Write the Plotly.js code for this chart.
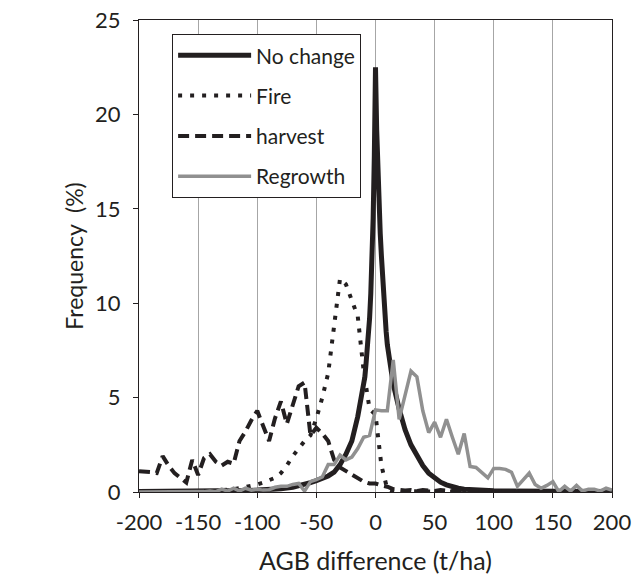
<!DOCTYPE html>
<html>
<head>
<meta charset="utf-8">
<script src="https://cdn.plot.ly/plotly-3.0.1.min.js"></script>
<style>html,body{margin:0;padding:0;background:#fff;}#chart{width:634px;height:578px;}</style>
</head>
<body>
<div id="chart"></div>
<script>
// AGB difference bins (t/ha), 5 t/ha steps
const xBins = [-200,-195,-190,-185,-180,-175,-170,-165,-160,-155,-150,-145,-140,-135,-130,-125,-120,-115,-110,-105,
  -100,-95,-90,-85,-80,-75,-70,-65,-60,-55,-50,-45,-40,-35,-30,-25,-20,-15,-10,-5,
  0,5,10,15,20,25,30,35,40,45,50,55,60,65,70,75,80,85,90,95,
  100,105,110,115,120,125,130,135,140,145,150,155,160,165,170,175,180,185,190,195,200];

// No change series (finer sampling near the peak)
const xNoChange = [-200,-190,-180,-170,-160,-150,-140,-130,-120,-110,-100,-90,-80,-70,-65,-60,-55,-50,-45,-40,
  -35,-30,-25,-20,-15,-10,-9,-8,-7,-6,-5,-4,-3,-2,-1,0,1,2,3,4,5,6,7,8,9,10,
  15,20,25,30,35,40,45,50,55,60,65,70,75,80,90,100,110,120,130,140,150,160,170,180,190,200];
const noChange = [0.03,0.03,0.03,0.04,0.04,0.05,0.05,0.06,0.07,0.08,0.1,0.12,0.17,0.25,0.32,0.4,0.5,0.6,0.7,0.85,
  1.05,1.45,2.0,2.7,4.0,5.5,6.1,6.8,7.5,8.3,9.2,10.5,12.2,14.5,17.8,22.5,19.2,16.8,15.0,13.7,12.5,11.3,10.2,9.3,8.5,7.8,
  5.7,4.4,3.3,2.5,1.95,1.4,1.0,0.75,0.52,0.38,0.27,0.2,0.15,0.12,0.08,0.06,0.05,0.04,0.04,0.03,0.03,0.03,0.02,0.02,0.02,0.02];

const fire = [0,0,0,0,0,0,0,0.02,0.02,0.03,0.03,0.04,0.05,0.05,0.1,0.1,0.15,0.2,0.25,0.3,
  0.4,0.5,0.6,0.75,1.0,1.4,1.9,2.3,2.7,3.0,3.9,5.0,6.3,8.8,11.3,11.0,10.1,9.3,6.4,4.4,
  4.1,1.4,0.15,0.05,0.05,0.04,0.03,0.03,0.03,0.02,0.02,0.02,0.02,0.02,0.02,0.02,0.02,0.02,0.02,0.02,
  0.02,0.02,0.02,0.02,0.02,0.02,0.02,0.02,0.02,0.02,0.02,0.02,0.02,0.02,0.02,0.02,0.02,0.02,0.02,0.02,0.02];

const harvest = [1.1,1.1,1.05,1.0,1.9,1.4,1.0,0.75,0.5,1.7,0.9,1.8,2.0,1.6,1.4,1.6,1.5,2.7,3.2,3.8,
  4.3,3.5,2.7,3.9,4.8,3.6,4.6,5.6,5.8,3.0,3.4,3.1,2.7,1.7,1.3,1.1,0.9,0.7,0.55,0.45,
  0.45,0.35,0.28,0.15,0.1,0.08,0.1,0.05,0.1,0.08,0.05,0.1,0.08,0.05,0.1,0.05,0.06,0.05,0.05,0.05,
  0.05,0.05,0.05,0.05,0.05,0.05,0.05,0.05,0.05,0.05,0.05,0.05,0.05,0.05,0.05,0.05,0.05,0.05,0.05,0.05,0.05];

const regrowth = [0,0,0,0,0,0,0,0,0,0,0,0.02,0.05,0.02,0.15,0.05,0.2,0.05,0.2,0.1,
  0.15,0.1,0.12,0.25,0.3,0.3,0.4,0.45,0.05,0.55,0.65,0.8,1.45,1.45,1.95,1.7,1.85,2.3,2.9,3.0,
  4.35,4.3,4.3,7.0,3.85,5.1,6.4,6.1,4.3,3.15,3.7,2.9,3.85,2.9,2.0,3.1,1.35,1.3,1.05,0.75,
  1.25,1.25,1.2,1.05,0.3,0.65,1.0,0.4,0.2,0.35,0.55,0.02,0.3,0.05,0.35,0.05,0.15,0.15,0.05,0.2,0.1];

const seriesNames = ['No change','Fire','harvest','Regrowth'];
const xTicks = [-200,-150,-100,-50,0,50,100,150,200];
const yTicks = [0,5,10,15,20,25];

const FONT = 'Lato, Carlito, Calibri, sans-serif';
const BLACK = '#231f20';
const GRAY = '#909090';

const traces = [
  {x: xNoChange, y: noChange, name: seriesNames[0], mode: 'lines', legendgroup: 'a',
   line: {color: BLACK, width: 5}},
  {x: xBins, y: fire, name: seriesNames[1], mode: 'lines', legendgroup: 'b',
   line: {color: BLACK, width: 4, dash: '4px,8px'}},
  {x: xBins, y: harvest, name: seriesNames[2], mode: 'lines', legendgroup: 'c',
   line: {color: BLACK, width: 4, dash: '11px,6px'}},
  {x: xBins, y: regrowth, name: seriesNames[3], mode: 'lines', legendgroup: 'd',
   line: {color: GRAY, width: 3.5}}
];

const layout = {
  width: 634, height: 578,
  margin: {l: 139, r: 22, t: 20, b: 86},
  paper_bgcolor: '#fff', plot_bgcolor: '#fff',
  font: {family: FONT, color: '#231f20'},
  xaxis: {
    range: [-200, 200], tickvals: xTicks, ticktext: xTicks.map(String),
    showgrid: true, gridcolor: '#a6a6a6', gridwidth: 1, zeroline: false,
    showline: true, linecolor: BLACK, linewidth: 1, mirror: true,
    ticks: 'outside', ticklen: 5, tickcolor: BLACK, ticklabelstandoff: 6,
    tickfont: {size: 22, family: FONT, color: BLACK},
    title: {text: 'AGB difference (t/ha)', font: {size: 25, family: FONT, color: BLACK}, standoff: 18}
  },
  yaxis: {
    range: [0, 25], tickvals: yTicks, ticktext: yTicks.map(String),
    showgrid: false, zeroline: false,
    showline: true, linecolor: BLACK, linewidth: 1, mirror: true,
    ticks: 'outside', ticklen: 5, tickcolor: BLACK, ticklabelstandoff: 8,
    tickfont: {size: 22, family: FONT, color: BLACK},
    title: {text: 'Frequency\u00a0\u00a0(%)', font: {size: 23, family: FONT, color: BLACK}, standoff: 5}
  },
  showlegend: true,
  legend: {
    x: 0.07, y: 0.97, xanchor: 'left', yanchor: 'top',
    bgcolor: '#fff', bordercolor: BLACK, borderwidth: 1,
    font: {size: 21, family: FONT, color: BLACK},
    traceorder: 'grouped', tracegroupgap: 10, itemwidth: 73
  }
};

Plotly.newPlot('chart', traces, layout, {displayModeBar: false, staticPlot: true});
</script>
</body>
</html>
